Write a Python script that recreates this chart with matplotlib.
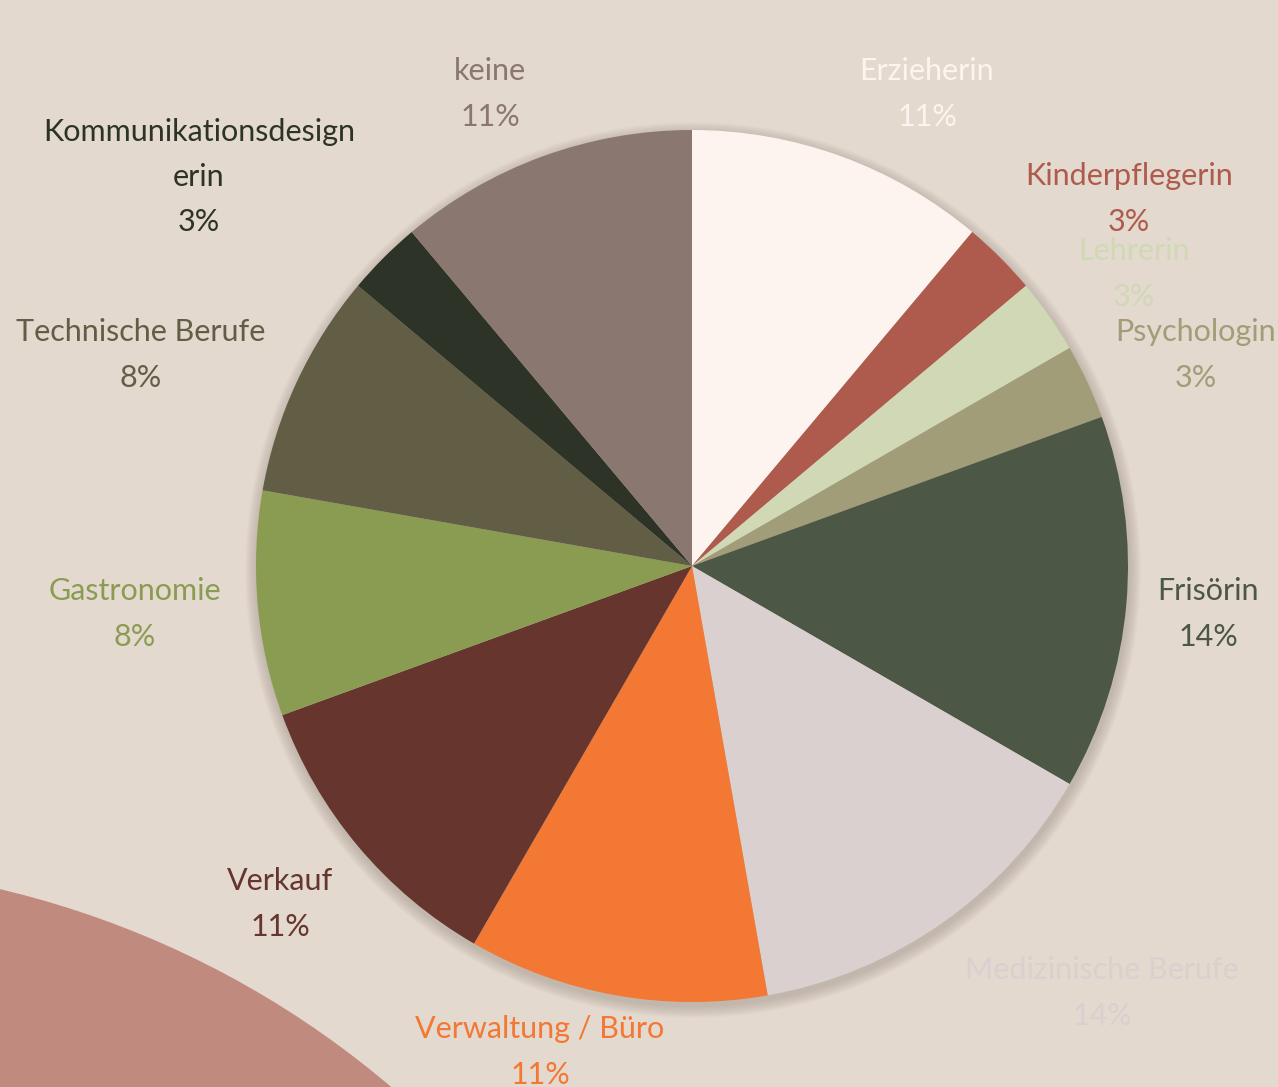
import matplotlib
matplotlib.use("Agg")
import matplotlib.pyplot as plt
from matplotlib.patches import Circle

# Berufswunsch - Anteile (Anzahl Nennungen, n = 36)
berufe = ["Erzieherin", "Kinderpflegerin", "Lehrerin", "Psychologin", "Frisörin",
          "Medizinische Berufe", "Verwaltung / Büro", "Verkauf", "Gastronomie",
          "Technische Berufe", "Kommunikationsdesign\nerin", "keine"]
anzahl = [4, 1, 1, 1, 5, 5, 4, 4, 3, 3, 1, 4]
farben = ["#FDF4EF", "#AE5B4E", "#D0D8B5", "#A09D78", "#4D5746", "#D9D0CF",
          "#F37834", "#66352E", "#8A9C52", "#625E45", "#2D3327", "#8A7770"]

# Textposition der Beschriftungen (Pixel von oben links, Mitte des Textblocks)
label_pos = [(927, 94), (1129, 199), (1134, 274), (1196, 355), (1208, 614),
             (1102, 993), (540, 1052), (280, 904), (135, 614), (141, 355),
             (199, 177), (490, 94)]

W, H = 1278, 1087
bg = "#E3D9CF"

fig = plt.figure(figsize=(W / 100, H / 100), dpi=100, facecolor=bg)
ax = fig.add_axes([0, 0, 1, 1])
ax.set_facecolor(bg)

# Deko-Fläche unten links
ax.add_patch(Circle((-214, H - 1798), 933, color="#C18A7E", zorder=0))

cx, cy, r = 692, H - 566, 436

# weicher Schatten
for i in range(10):
    ax.add_patch(Circle((cx + 1, cy - 4), r + 1 + i * 1.2, color="#7A6A5E",
                        alpha=0.03, lw=0, zorder=1))

wedges, _ = ax.pie(anzahl, colors=farben, startangle=90, counterclock=False,
                   center=(cx, cy), radius=r, frame=True,
                   wedgeprops=dict(linewidth=0))
for w in wedges:
    w.set_zorder(2)
ax.set_xlim(0, W)
ax.set_ylim(0, H)
ax.set_aspect("equal")
ax.axis("off")

total = sum(anzahl)
for name, n, col, (x, y) in zip(berufe, anzahl, farben, label_pos):
    pct = round(100 * n / total)
    ax.text(x, H - y, f"{name}\n{pct}%", color=col, ha="center", va="center",
            fontsize=22, family="Lato", linespacing=1.75, zorder=5)

fig.savefig("out.png", dpi=100, facecolor=bg)
